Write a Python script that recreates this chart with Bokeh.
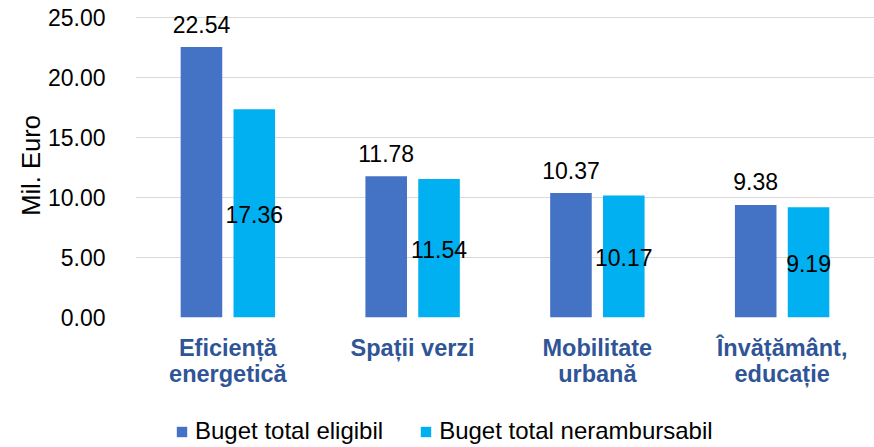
from bokeh.plotting import figure
from bokeh.layouts import column
from bokeh.models import (ColumnDataSource, FactorRange, Range1d, LabelSet, Legend,
                          LegendItem, FixedTicker, NumeralTickFormatter)
from bokeh.core.properties import value
from bokeh.transform import dodge
from bokeh.embed import file_html
from bokeh.resources import INLINE

categories = ["Eficiență\nenergetică", "Spații verzi", "Mobilitate\nurbană", "Învățământ,\neducație"]
eligibil = [22.54, 11.78, 10.37, 9.38]
nerambursabil = [17.36, 11.54, 10.17, 9.19]
series_names = ["Buget total eligibil", "Buget total nerambursabil"]
y_ticks = [0, 5, 10, 15, 20, 25]

FONT = "Liberation Sans"
DARK = "#4472C4"
LIGHT = "#00B0F0"

src = ColumnDataSource(dict(
    cat=categories,
    elig=eligibil,
    ner=nerambursabil,
    elig_lbl=[f"{v:.2f}" for v in eligibil],
    ner_lbl=[f"{v:.2f}" for v in nerambursabil],
    ner_mid=[v / 2 for v in nerambursabil],
))

# a little headroom above the top gridline so the tallest bar's label is not clipped
HEADROOM = 1 / 3
p = figure(x_range=FactorRange(factors=categories, range_padding=0),
           y_range=Range1d(y_ticks[0], y_ticks[-1] + HEADROOM),
           width=874, height=410, output_backend="svg", toolbar_location=None,
           min_border_left=135, min_border_right=0, min_border_top=13,
           min_border_bottom=93)
p.outline_line_color = None
p.background_fill_color = "white"
p.border_fill_color = "white"

OFF = 0.143
W = 0.225
r1 = p.vbar(x=dodge("cat", -OFF, range=p.x_range), top="elig", width=W, source=src,
            fill_color=DARK, line_color=None)
r2 = p.vbar(x=dodge("cat", OFF, range=p.x_range), top="ner", width=W, source=src,
            fill_color=LIGHT, line_color=None)

lab1 = LabelSet(x=dodge("cat", -OFF, range=p.x_range), y="elig", text="elig_lbl", source=src,
                text_align="center", text_baseline="middle", y_offset=23,
                text_font_size="23px", text_font=value(FONT), text_color="black")
lab2 = LabelSet(x=dodge("cat", OFF, range=p.x_range), y="ner_mid", text="ner_lbl", source=src,
                text_align="center", text_baseline="middle", y_offset=-1,
                text_font_size="23px", text_font=value(FONT), text_color="black")
p.add_layout(lab1)
p.add_layout(lab2)

# y axis
p.yaxis.ticker = FixedTicker(ticks=y_ticks)
p.yaxis.formatter = NumeralTickFormatter(format="0.00")
p.yaxis.axis_label = "Mil. Euro"
p.yaxis.axis_label_text_font = FONT
p.yaxis.axis_label_text_font_size = "25.5px"
p.yaxis.axis_label_text_font_style = "normal"
p.yaxis.axis_label_text_color = "black"
p.yaxis.axis_label_standoff = 0
p.yaxis.axis_line_color = None
p.yaxis.major_tick_line_color = None
p.yaxis.minor_tick_line_color = None
p.yaxis.major_label_standoff = 24
p.yaxis.major_label_text_font = FONT
p.yaxis.major_label_text_font_size = "23px"
p.yaxis.major_label_text_color = "black"

p.ygrid.ticker = FixedTicker(ticks=y_ticks)
p.ygrid.grid_line_color = "#D9D9D9"
p.ygrid.grid_line_width = 1
p.xgrid.grid_line_color = None

# x axis
p.xaxis.axis_line_color = None
p.xaxis.major_tick_line_color = None
p.xaxis.minor_tick_line_color = None
p.xaxis.major_label_standoff = 11
p.xaxis.major_label_text_font = FONT
p.xaxis.major_label_text_font_size = "23.5px"
p.xaxis.major_label_text_font_style = "bold"
p.xaxis.major_label_text_color = "#2F5597"
p.xaxis.major_label_text_line_height = 1.01

# legend strip (separate figure below the chart, with swatch renderers in series colours)
p2 = figure(width=874, height=37, output_backend="svg", toolbar_location=None,
            x_axis_location=None, y_axis_location=None,
            x_range=Range1d(0, 1), y_range=Range1d(0, 1),
            min_border_left=0, min_border_right=0, min_border_top=0, min_border_bottom=0)
p2.outline_line_color = None
p2.grid.visible = False
sw1 = p2.vbar(x=[0], top=[0], bottom=[0], width=0, fill_color=DARK, line_color=None)
sw2 = p2.vbar(x=[0], top=[0], bottom=[0], width=0, fill_color=LIGHT, line_color=None)

legend = Legend(items=[LegendItem(label=series_names[0], renderers=[sw1]),
                       LegendItem(label=series_names[1], renderers=[sw2])],
                orientation="horizontal", location=(40, 2),
                glyph_width=13, glyph_height=13, label_standoff=7, spacing=36,
                padding=0, margin=0, border_line_color=None, background_fill_alpha=0,
                label_text_font=FONT, label_text_font_size="24px", label_text_color="black")
p2.add_layout(legend)

open("out.html", "w").write(file_html(column(p, p2, spacing=0), INLINE))
